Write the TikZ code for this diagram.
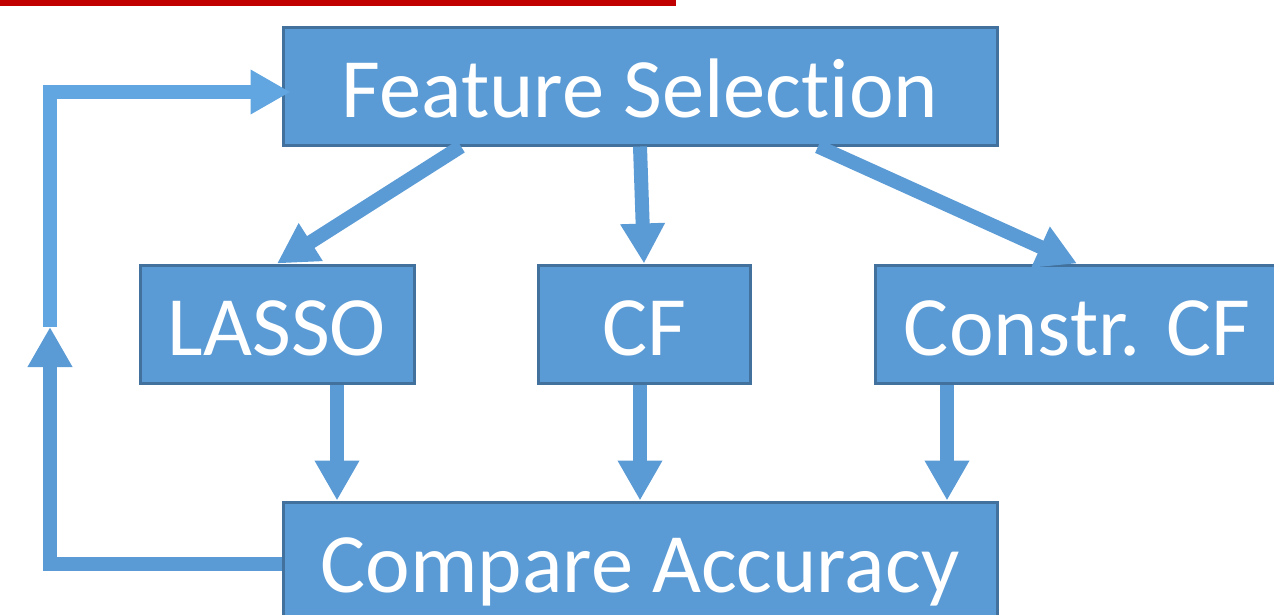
\documentclass[tikz,border=0pt]{standalone}
\usepackage{fontspec}
\setmainfont{Carlito}[Ligatures=NoCommon]
\usetikzlibrary{arrows.meta}
\definecolor{boxblue}{HTML}{5B9BD5}
\definecolor{boxedge}{HTML}{41719C}
\definecolor{looplight}{HTML}{62A6E1}
\definecolor{barred}{HTML}{C00000}
\begin{document}
\begin{tikzpicture}[x=1pt,y=-1pt,
  box/.style={draw=boxedge, line width=3pt, fill=boxblue, text=white,
    inner sep=0pt, font=\fontsize{84.5}{100}\selectfont,
    text height=77pt, text depth=15pt, minimum height=118pt},
  flow/.style={draw=boxblue, line width=14pt, line cap=butt,
    -{Triangle[width=42pt,length=40pt]}},
]
\useasboundingbox (0,0) rectangle (1274,614);
\clip (0,0) rectangle (1274,614);

% red rule along the top edge
\fill[barred] (0,0) rectangle (676,6);

% process boxes
\node[box, minimum width=714pt] (fs)    at (640,86)   {Feature Selection};
\node[box, minimum width=274pt] (lasso) at (277,324)  {LASSO};
\node[box, minimum width=212pt] (cf)    at (644,324)  {CF};
\node[box, minimum width=404pt] (ccf)   at (1077,324) {Constr. CF};
\node[box, minimum width=714pt] (ca)    at (640,561)  {Compare Accuracy};

% feature selection fans out to the three methods
\draw[flow] ([xshift=-179pt]fs.south) -- (lasso.north);
\draw[flow] (fs.south) -- (cf.north);
\draw[flow] ([xshift=178pt]fs.south) -- (ccf.north);

% each method feeds the comparison
\draw[flow] ([xshift=60pt]lasso.south) -- ([xshift=60pt]lasso.south |- ca.north);
\draw[flow] ([xshift=-4pt]cf.south) -- ([xshift=-4pt]cf.south |- ca.north);
\draw[flow] ([xshift=-130pt]ccf.south) -- ([xshift=-130pt]ccf.south |- ca.north);

% feedback loop back to feature selection
\coordinate (loopturn) at (50,327);
\draw[flow] ([yshift=-3pt]ca.west) -| (loopturn);
\draw[flow, draw=looplight] (loopturn) |- ([xshift=9pt,yshift=-6pt]fs.west);
\end{tikzpicture}
\end{document}
